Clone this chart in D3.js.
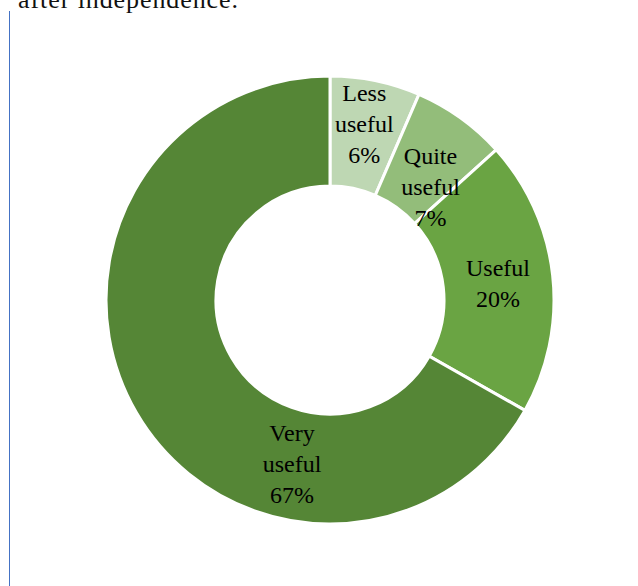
<!DOCTYPE html>
<html>
<head>
<meta charset="utf-8">
<script src="https://cdn.jsdelivr.net/npm/d3@7"></script>
<style>
  body { margin: 0; background: #fff; }
  svg { display: block; }
</style>
</head>
<body>
<div id="chartArea"></div>
<script>
// survey answers, share in percent
var categories = ["Less useful", "Quite useful", "Useful", "Very useful"];
var shares = [6.5, 6.8, 19.9, 66.8];
var percentLabels = ["6%", "7%", "20%", "67%"];
var colors = ["#bed7b3", "#93bd7a", "#6aa443", "#558636"];

var width = 638, height = 586;
var cx = 330, cy = 300;
var outerR = 224, innerR = 114;

// label nudges from the arc centroid (Excel style placement)
var labelNudge = [[0, -11], [2, 24], [0, 2], [108, 78]];

var svg = d3.select("#chartArea").append("svg")
    .attr("width", width)
    .attr("height", height);

// cut-off text line from the page above
svg.append("text")
    .attr("x", 18)
    .attr("y", 8)
    .attr("font-family", "Liberation Serif, serif")
    .attr("font-size", 26)
    .attr("textLength", 220)
    .attr("fill", "#111")
    .text("after independence.");

// frame line on the left
svg.append("line")
    .attr("x1", 9.5).attr("x2", 9.5)
    .attr("y1", 11).attr("y2", height)
    .attr("stroke", "#4472c4")
    .attr("stroke-width", 1);

var pie = d3.pie().sort(null).value(function(d) { return d; });
var arcs = pie(shares);

var arc = d3.arc().innerRadius(innerR).outerRadius(outerR);

var g = svg.append("g")
    .attr("transform", "translate(" + cx + "," + cy + ")");

g.selectAll("path").data(arcs).enter().append("path")
    .attr("d", arc)
    .attr("fill", function(d, i) { return colors[i]; })
    .attr("stroke", "#fff")
    .attr("stroke-width", 3);

var lineH = 31;
var labels = g.selectAll("text.lbl").data(arcs).enter().append("text")
    .attr("class", "lbl")
    .attr("text-anchor", "middle")
    .attr("font-family", "Liberation Serif, serif")
    .attr("font-size", 24)
    .attr("fill", "#000")
    .attr("transform", function(d, i) {
        var c = arc.centroid(d);
        return "translate(" + (c[0] + labelNudge[i][0]) + "," + (c[1] + labelNudge[i][1]) + ")";
    });

labels.each(function(d, i) {
    var words = categories[i].split(" ");
    var lines = words.concat([percentLabels[i]]);
    var t = d3.select(this);
    var top = -(lines.length - 1) * lineH / 2;
    lines.forEach(function(w, k) {
        t.append("tspan")
            .attr("x", 0)
            .attr("y", top + k * lineH)
            .attr("dy", "0.35em")
            .text(w);
    });
});
</script>
</body>
</html>
